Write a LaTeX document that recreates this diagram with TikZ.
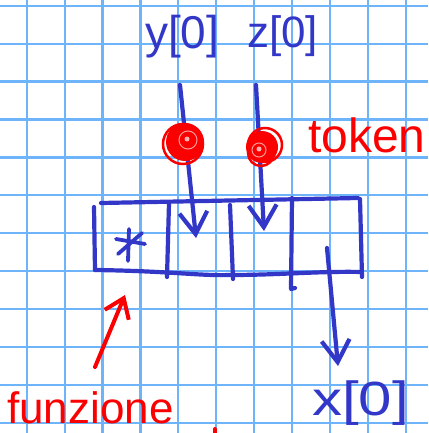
\documentclass[tikz,border=0pt]{standalone}
\usepackage{fontspec}
\setmainfont{Liberation Sans}
\usetikzlibrary{arrows.meta}
\definecolor{gridblue}{RGB}{110,180,250}
\definecolor{inkblue}{RGB}{50,55,200}
\definecolor{inkred}{RGB}{250,0,0}
\begin{document}
\begin{tikzpicture}[x=1pt,y=-1pt,
  ink/.style={draw=inkblue, line width=4.2pt, line cap=round, line join=round},
  redink/.style={draw=inkred, line width=4pt, line cap=round, line join=round},
  barb/.style={-{Straight Barb[length=22pt,width=28pt]}},
  rbarb/.style={-{Straight Barb[length=18pt,width=26pt]}},
  bluetext/.style={text=inkblue, inner sep=0pt, text depth=0pt},
  redtext/.style={text=inkred, inner sep=0pt, text depth=0pt},
  tokenstyle/.style={circle, fill=inkred, inner sep=0pt}]
\useasboundingbox (0,0) rectangle (428,433);
\fill[white] (0,0) rectangle (428,433);
% grid
\foreach \k in {0,...,10} {
  \draw[gridblue, line width=2.2pt] ({26.7+37.9*\k},0) -- ({26.7+37.9*\k},433);
}
\foreach \k in {0,...,11} {
  \draw[gridblue, line width=2.2pt] (0,{5.8+37.9*\k}) -- (428,{5.8+37.9*\k});
}
% labels
\node[bluetext, anchor=base west] (ylab) at (145,48.5) {\fontsize{46pt}{46pt}\selectfont y[0]};
\node[bluetext, anchor=base west] (zlab) at (247,48) {\fontsize{44pt}{44pt}\selectfont z[0]};
\node[bluetext, anchor=base west] (xlab) at (312,415) {\scalebox{1.25}[1]{\fontsize{48pt}{48pt}\selectfont x[0]}};
\node[redtext, anchor=base west] (toklab) at (308,152) {\fontsize{48pt}{48pt}\selectfont token};
\node[redtext, anchor=base west] (funlab) at (7,423) {\fontsize{44pt}{44pt}\selectfont funzione};
% frame of the table
\coordinate (tl) at (101,203);
\coordinate (tr) at (358,198);
\coordinate (lt) at (94,207);
\coordinate (bl) at (95,270);
\coordinate (bm) at (230,275);
\coordinate (br) at (362,272);
\coordinate (rt) at (360,199);
\coordinate (rb) at (362,277);
\draw[ink] (tl) -- (tr);
\draw[ink] (lt) -- (bl);
\draw[ink] (bl) .. controls (170,271) and (200,276) .. (bm) .. controls (280,275) and (320,271) .. (br);
\draw[ink] (rt) -- (rb);
\coordinate (d1t) at (169,203); \coordinate (d1b) at (167,277);
\coordinate (d2t) at (230,205); \coordinate (d2b) at (233,279);
\coordinate (d3t) at (292,198); \coordinate (d3b) at (291,289);
\coordinate (d3h) at (295,288);
\draw[ink] (d1t) -- (d1b);
\draw[ink] (d2t) -- (d2b);
\draw[ink] (d3t) -- (d3b) -- (d3h);
% asterisk in the first cell
\coordinate (star) at (130,245);
\draw[ink, line width=3.8pt] ([shift={(-1,-16)}]star) -- ([shift={(-2,16)}]star);
\draw[ink, line width=3.8pt] ([shift={(-14,-6)}]star) -- ([shift={(15,-1)}]star);
\draw[ink, line width=3.8pt] ([shift={(-12,9)}]star) -- ([shift={(12,-12)}]star);
% input arrows
\coordinate (a1s) at (180,85); \coordinate (a1e) at (196,238);
\coordinate (a2s) at (256,85); \coordinate (a2e) at (264,231);
\coordinate (a3s) at (327,248); \coordinate (a3e) at (338,366);
\draw[ink, barb] (a1s) -- (a1e);
\draw[ink, barb] (a2s) -- (a2e);
\draw[ink, barb] (a3s) -- (a3e);
% tokens
\node[tokenstyle, minimum size=38pt] (tok1) at (185,142) {};
\draw[inkred, line width=2.5pt] (183,144) circle (20);
\draw[white!60!inkred, line width=1pt] (188,140) circle (9);
\fill[white!70!inkred] (187,139) circle (2.5);
\node[tokenstyle, minimum size=32pt] (tok2) at (262,147) {};
\draw[inkred, line width=2.5pt] (265,145) circle (17);
\draw[inkred, line width=2.5pt] (261,153) circle (13);
\draw[white!60!inkred, line width=1pt] (259,150) circle (7);
\fill[white!70!inkred] (259,149) circle (2.5);
% red arrow to the function cell
\coordinate (ra) at (95,367); \coordinate (rb2) at (125,295);
\draw[redink, rbarb] (ra) -- (rb2);
% stray red mark
\coordinate (m1) at (215,429); \coordinate (m2) at (215,433);
\draw[redink] (m1) -- (m2);
\end{tikzpicture}
\end{document}
